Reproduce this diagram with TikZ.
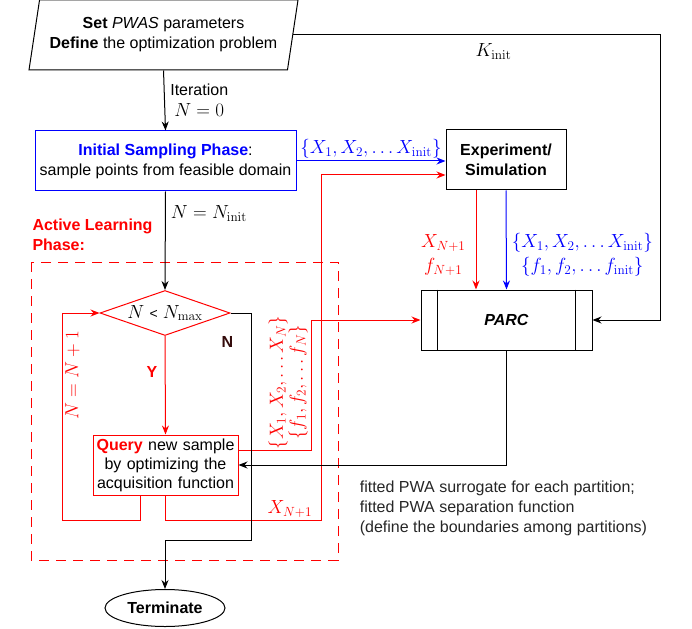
\documentclass[tikz,border=0pt]{standalone}
\usepackage{fix-cm}
\usepackage[no-math]{fontspec}
\setmainfont{Liberation Sans}
\usetikzlibrary{shapes.geometric,arrows.meta}
\definecolor{darkn}{RGB}{51,10,10}

\begin{document}
\begin{tikzpicture}[x=1pt, y=-1pt, line width=1pt, >={Stealth[length=9pt,width=7pt]},
    every node/.style={font=\fontsize{16}{20}\selectfont},
    box/.style={draw, rectangle, minimum height=60pt, inner sep=2pt, align=center},
    mlbl/.style={font=\fontsize{19}{22}\selectfont, align=center, inner sep=0pt}]
    \useasboundingbox (0,0) rectangle (692,628);

    \draw[red, dash pattern=on 10pt off 7pt] (31,262) rectangle (338,560);

    \node[draw, trapezium, trapezium left angle=73, trapezium right angle=107, trapezium stretches body, minimum width=269pt, minimum height=70pt, align=center, inner sep=0pt] (setup) at (163.5,35) {\textbf{Set} \textit{PWAS} parameters\\\textbf{Define} the optimization problem};
    \node[box, draw=blue, minimum width=261pt] (init) at (165.5,161) {\textcolor{blue}{\textbf{Initial Sampling Phase}}:\\sample points from feasible domain};
    \node[box, minimum width=120pt] (expsim) at (506,160) {\textbf{Experiment/}\\\textbf{Simulation}};
    \node[box, minimum width=171pt] (parc) at (506.5,320) {\textbf{\textit{PARC}}};
    \draw ([xshift=17pt]parc.north west) -- ([xshift=17pt]parc.south west);
    \draw ([xshift=-17pt]parc.north east) -- ([xshift=-17pt]parc.south east);
    \node[draw=red, diamond, aspect=2.9, minimum width=130pt, minimum height=45pt, inner sep=0pt, font=\fontsize{19}{22}\selectfont] (cond) at (165,313) {$N$ {\fontsize{14}{16}\selectfont<} $N_{\max}$};
    \node[box, draw=red, text width=140pt, minimum width=145pt, font=\fontsize{16}{19}\selectfont] (query) at (165.5,465) {\textcolor{red}{\textbf{Query}} new sample\\by optimizing the\\acquisition function};
    \node[draw, ellipse, minimum width=120pt, minimum height=37pt, inner sep=0pt] (term) at (165,608) {\textbf{Terminate}};

    \node[anchor=north west, align=left, red, inner sep=0pt, font=\fontsize{16}{20}\selectfont\bfseries] (alplbl) at (32,218) {Active Learning\\Phase:};
    \node[anchor=west, align=left, text=black!85] (fitlbl) at (356,508) {fitted PWA surrogate for each partition;\\fitted PWA separation function\\(define the boundaries among partitions)};

    \coordinate (kc) at (660,320);
    \coordinate (xr) at (321,520);
    \coordinate (xq) at (311,320);
    \coordinate (nc) at (251,540);
    \coordinate (lp) at (62,520);

    \draw[->] (setup.south) -- (init.north) node[midway, right, align=center, xshift=2pt] {Iteration\\[1pt]{\fontsize{19}{20}\selectfont$N=0$}};
    \draw[->] (setup.east) -| (kc) node[pos=0.273, below=8pt, mlbl] {$K_{\mathrm{init}}$} -- (parc.east);
    \draw[->, blue] (init.east) -- (init.east -| expsim.west) node[midway, above=2pt, mlbl] {$\{X_1, X_2, \ldots X_{\mathrm{init}}\}$};
    \draw[->, red] (query.south) |- (xr) node[pos=0.9, above=2pt, mlbl] {$X_{N+1}$} |- ([yshift=-15pt]expsim.west);
    \draw[->, red] ([yshift=15pt]query.east) -| (xq) node[pos=0.76, rotate=90, anchor=south, mlbl, inner sep=3pt, font=\fontsize{19}{20}\selectfont] {$\{X_1, X_2, \ldots X_N\}$\\$\{f_1, f_2, \ldots f_N\}$} -- (parc.west);
    \draw[->, red] ([xshift=-30pt]expsim.south) -- ([xshift=-30pt]expsim.south |- parc.north) node[pos=0.65, left=10pt, mlbl, font=\fontsize{19}{24}\selectfont] {$X_{N+1}$\\$f_{N+1}$};
    \draw[->, blue] (expsim.south) -- (parc.north) node[pos=0.65, right=5pt, mlbl, font=\fontsize{19}{24}\selectfont] {$\{X_1, X_2, \ldots X_{\mathrm{init}}\}$\\$\{f_1, f_2, \ldots f_{\mathrm{init}}\}$};
    \draw[->] (parc.south) |- (query.east);
    \draw[->] (init.south) -- (cond.north) node[pos=0.22, right=5pt, mlbl] {$N=N_{\mathrm{init}}$};
    \draw[->] (cond.east) -| (nc) node[pos=0.564, left=14pt, text=darkn, font=\fontsize{16}{20}\selectfont\bfseries] {N} -| (term.north);
    \draw[->, red] (cond.south) -- (query.north) node[pos=0.37, left=4pt, font=\fontsize{16}{20}\selectfont\bfseries] {Y};
    \draw[->, red] ([xshift=-25pt]query.south) |- (lp) |- (cond.west) node[pos=0.35, rotate=90, anchor=north, mlbl, inner sep=3pt] {$N=N+1$};
\end{tikzpicture}
\end{document}
